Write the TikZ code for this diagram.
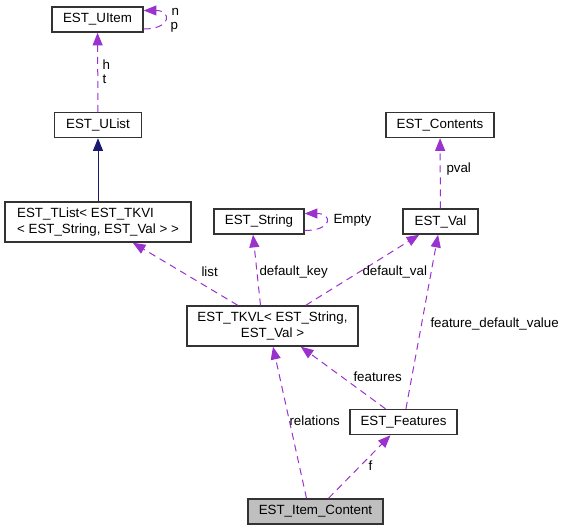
\documentclass[tikz,border=0pt]{standalone}
\usepackage{fontspec}
\setmainfont{Liberation Sans}
\usetikzlibrary{arrows.meta,calc}

\definecolor{usecol}{RGB}{154,50,205}
\definecolor{basecol}{RGB}{25,25,112}
\definecolor{boxgray}{RGB}{191,191,191}

\tikzset{every picture/.style={line width=0.75pt}}
\tikzset{
  cls/.style={draw=black!80, line width=1.1pt, fill=white, inner sep=2pt,
    minimum height=18.75pt, font=\fontsize{10}{12}\selectfont},
  uses/.style={draw=usecol, dash pattern={on 5.25pt off 3.75pt},
    -{Triangle[length=9.5pt,width=7.5pt]}},
  inherits/.style={draw=basecol, -{Triangle[length=9.5pt,width=7.5pt]}},
  lbl/.style={anchor=west, inner sep=0pt, font=\fontsize{10}{12}\selectfont},
}

\begin{document}
\begin{tikzpicture}[x=0.75pt,y=0.75pt,yscale=-1,xscale=1]
\useasboundingbox (0,0) rectangle (561,531);

% Classes
\node[cls, minimum width=68.25pt] (UItem) at (97.5,19.5) {EST\_UItem};
\node[cls, minimum width=65.25pt] (UList) at (98,125) {EST\_UList};
\node[cls, minimum width=139.5pt, minimum height=30pt, align=left] (TList) at (98,222)
  {EST\_TList< EST\_TKVI\\< EST\_String, EST\_Val > >};
\node[cls, minimum width=67.5pt] (String) at (259,221.5) {EST\_String};
\node[cls, minimum width=56.25pt] (Val) at (440.5,221.5) {EST\_Val};
\node[cls, minimum width=81pt] (Contents) at (440,125) {EST\_Contents};
\node[cls, minimum width=128.25pt, minimum height=30pt, align=center] (TKVL) at (272.5,326)
  {EST\_TKVL< EST\_String,\\EST\_Val >};
\node[cls, minimum width=80.25pt] (Features) at (403.5,422) {EST\_Features};
\node[cls, minimum width=101.25pt, fill=boxgray] (Item) at (315.5,511.5) {EST\_Item\_Content};

% Inheritance
\draw[inherits] (TList) -- (UList);

% Usage
\draw[uses] (UList) -- (UItem);
\draw[uses] ($(UItem.east)+(0,9.5)$) .. controls ($(UItem.east)+(28,9.5)$) and ($(UItem.east)+(28,-9)$) .. ($(UItem.east)+(0,-9)$);
\draw[uses] (TKVL) -- (TList);
\draw[uses] ($(TKVL.north)+(-12,0)$) -- ($(String.south)+(-6,0)$);
\draw[uses] ($(String.east)+(0,9)$) .. controls ($(String.east)+(28,9)$) and ($(String.east)+(28,-8)$) .. ($(String.east)+(0,-8)$);
\draw[uses] (TKVL) -- (Val);
\draw[uses] (Val) -- (Contents);
\draw[uses] (Features) -- (Val);
\draw[uses] (Features) -- (TKVL);
\draw[uses] ($(Item.north)+(-9,0)$) -- ($(TKVL.south)+(0.5,0)$);
\draw[uses] (Item) -- (Features);

% Labels
\node[lbl] (lh) at (102,65) {h};
\node[lbl] (lt) at (102,79) {t};
\node[lbl] (ln) at (171,12) {n};
\node[lbl] (lp) at (170,27) {p};
\node[lbl] (llist) at (201,272) {list};
\node[lbl] (lkey) at (259,272) {default\_key};
\node[lbl] (lval) at (362,272) {default\_val};
\node[lbl] (lempty) at (333,220) {Empty};
\node[lbl] (lpval) at (446,169) {pval};
\node[lbl] (lfdv) at (430,324) {feature\_default\_value};
\node[lbl] (lfeat) at (353,377) {features};
\node[lbl] (lrel) at (289,421) {relations};
\node[lbl] (lf) at (368,466) {f};

\end{tikzpicture}
\end{document}
